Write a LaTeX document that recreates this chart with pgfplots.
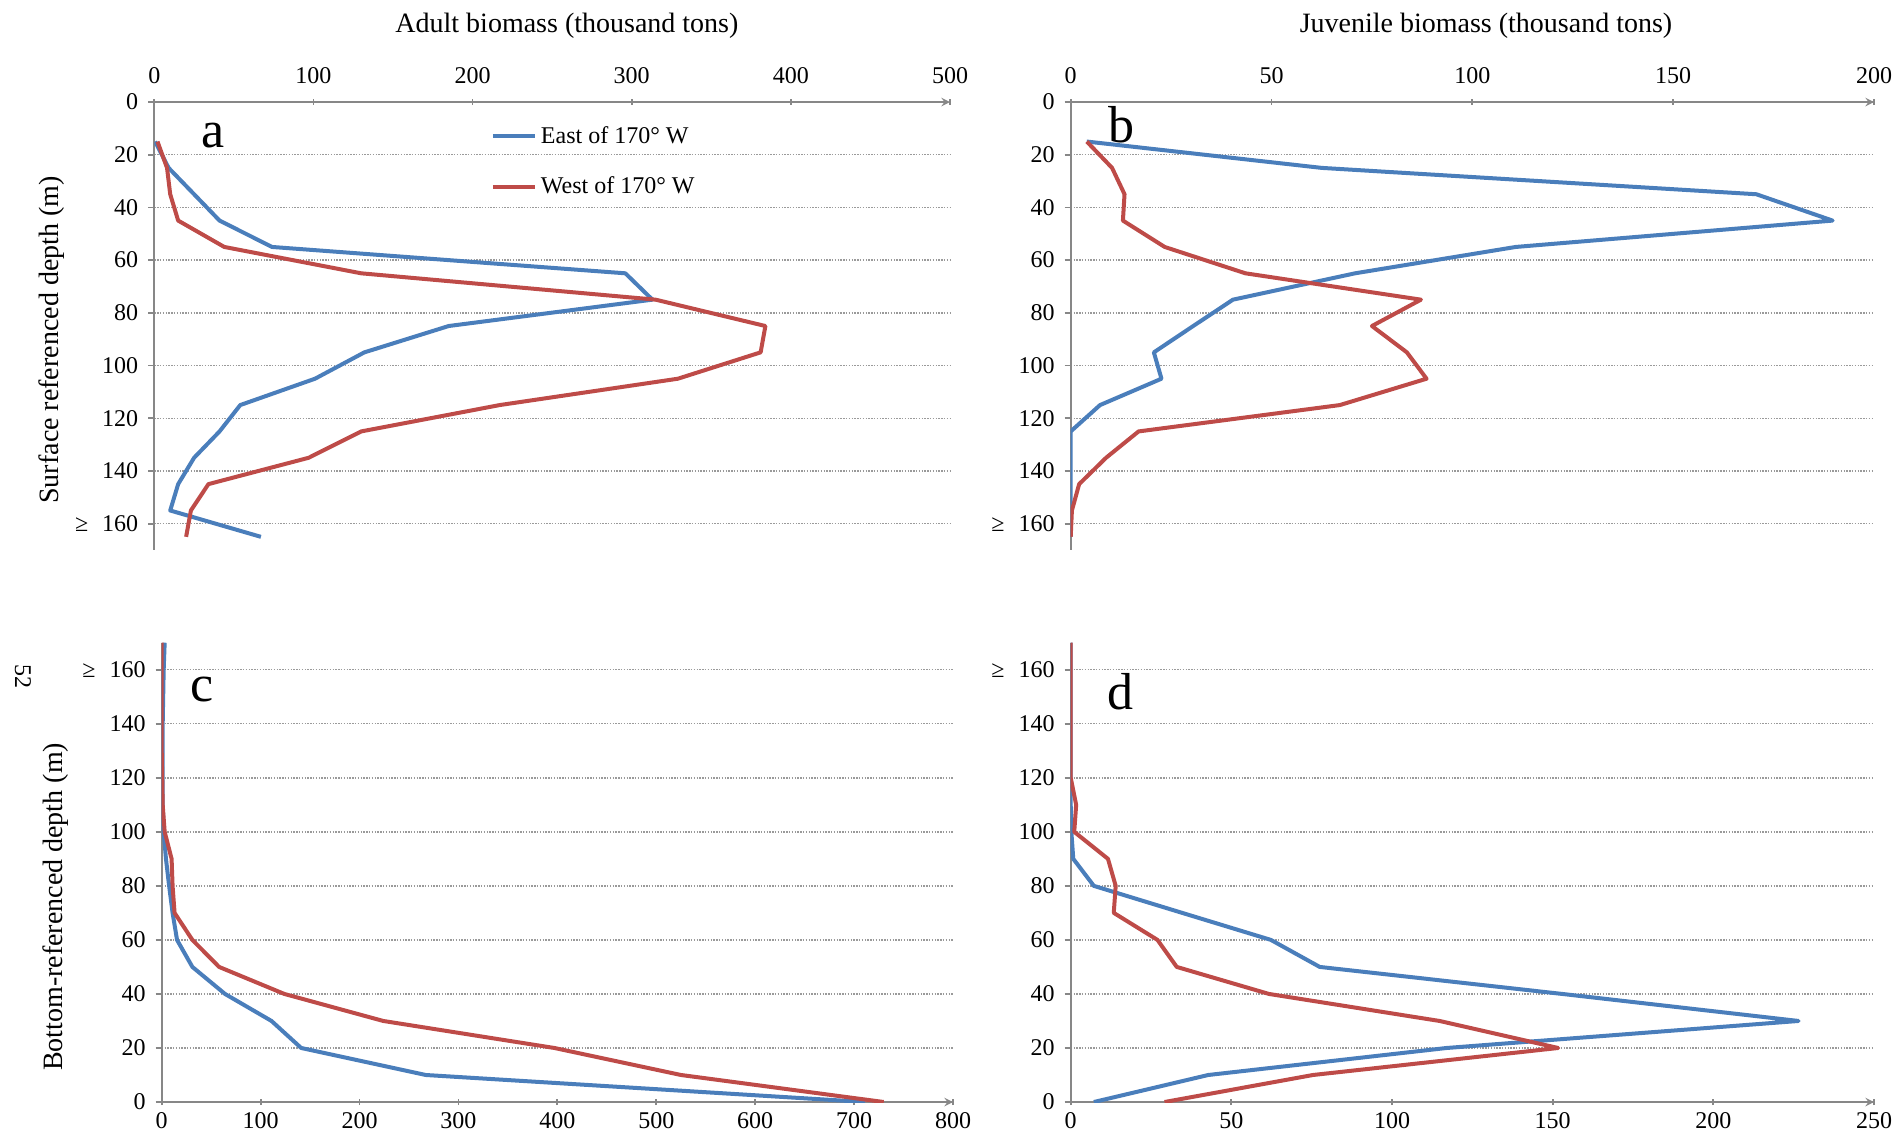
\documentclass[border=0pt]{standalone}
\usepackage{pgfplots}
\pgfplotsset{compat=1.18}
\usepackage{fontspec}
\setmainfont{Liberation Serif}
\definecolor{eastc}{HTML}{4A7EBB}
\definecolor{westc}{HTML}{BE4B48}
\definecolor{axc}{HTML}{878787}
\definecolor{gridc}{HTML}{9A9A9A}
\tikzset{letter/.style={font=\rmfamily\fontsize{26}{30}\selectfont, anchor=base}}
\pgfplotsset{
  panel/.style={
    scale only axis, enlargelimits=false,
    axis y line=left,
    axis line style={-, axc, line width=0.9pt},
    tick style={axc, line width=0.9pt},
    major tick length=3pt, tick align=outside,
    ymajorgrids, major grid style={gridc, line width=0.7pt, dash pattern=on 0.7pt off 0.7pt},
    ymin=0, ymax=170,
    ytick={0,20,40,60,80,100,120,140,160},
    yticklabels={0,20,40,60,80,100,120,140,{≥\hspace{7pt}160}},
    /pgf/number format/assume math mode=true,
    ticklabel style={font=\rmfamily\fontsize{12}{14}\selectfont},
    yticklabel style={xshift=-1.5pt},
  },
  east/.style={eastc, line width=2pt, line join=round},
  west/.style={westc, line width=2pt, line join=round},
}
\begin{document}
\begin{tikzpicture}
\path[use as bounding box] (0,0) rectangle (948pt,-571pt);
\node[rotate=-90, font=\rmfamily\fontsize{12}{14}\selectfont] at (11.5pt,-338.25pt) {52};
% ---------- a
\begin{axis}[panel, at={(276.075pt,-163pt)}, anchor=center,
  width=397.85pt, height=224pt, y dir=reverse,
  axis x line=top,
  xmin=0, xmax=500, xtick={0,100,200,300,400,500},
  xticklabel style={yshift=4pt},
  xlabel={Adult biomass (thousand tons)},
  xlabel style={at={([yshift=38.3pt]axis cs:259.3,0)}, anchor=center, font=\rmfamily\fontsize{14}{17}\selectfont},
  ylabel={Surface referenced depth (m)},
  ylabel style={at={([xshift=-51.15pt]axis cs:0,90.3)}, anchor=center, font=\rmfamily\fontsize{14}{17}\selectfont},
  legend style={draw=none, fill=none, at={(axis cs:211.3,7.54)}, anchor=north west,
    font=\rmfamily\fontsize{12}{14}\selectfont, row sep=11.4pt, inner sep=0pt},
  legend cell align=left,
  legend image code/.code={\draw[#1] (0pt,0pt) -- (21pt,0pt);},
]
\addplot[east] coordinates {(0.5,15) (9,25) (25,35) (41,45) (74,55) (296,65) (313,75) (185,85) (132,95) (101,105) (54,115) (41,125) (25,135) (15,145) (10,155) (67,165)};
\addlegendentry{East of 170° W}
\addplot[west] coordinates {(2,15) (8,25) (10,35) (15,45) (44,55) (130,65) (315,75) (384,85) (381,95) (329,105) (217,115) (130,125) (97,135) (34,145) (23,155) (20,165)};
\addlegendentry{West of 170° W}
\node[letter] at (axis cs:36.6,17.1) {a};
\end{axis}
% ---------- b
\begin{axis}[panel, at={(736.175pt,-163pt)}, anchor=center,
  width=401.65pt, height=224pt, y dir=reverse,
  axis x line=top,
  xmin=0, xmax=200, xtick={0,50,100,150,200},
  xticklabel style={yshift=4pt},
  xlabel={Juvenile biomass (thousand tons)},
  xlabel style={at={([yshift=38.3pt]axis cs:103.4,0)}, anchor=center, font=\rmfamily\fontsize{14}{17}\selectfont},
]
\addplot[east] coordinates {(4,15) (62.5,25) (170.7,35) (189.7,45) (110.8,55) (70.8,65) (40.4,75) (30.5,85) (20.7,95) (22.6,105) (7.3,115) (0,125) (0,135) (0,145) (0,155) (0,165)};
\addplot[west] coordinates {(4,15) (10.3,25) (13.4,35) (13,45) (23.4,55) (43.5,65) (87.2,75) (75,85) (83.7,95) (88.6,105) (67,115) (16.9,125) (8.8,135) (2.1,145) (0.3,155) (0,165)};
\node[letter] at (axis cs:12.6,15.2) {b};
\end{axis}
% ---------- c
\begin{axis}[panel, at={(278.675pt,-436.175pt)}, anchor=center,
  width=395.65pt, height=229.65pt,
  axis x line=bottom,
  xmin=0, xmax=800, xtick={0,100,200,300,400,500,600,700,800},
  ylabel={Bottom-referenced depth (m)},
  ylabel style={at={([xshift=-53pt]axis cs:0,72.2)}, anchor=center, font=\rmfamily\fontsize{14}{17}\selectfont},
]
\addplot[east] coordinates {(711,0) (267,10) (141,20) (111,30) (64,40) (31,50) (15.5,60) (11,70) (7.5,80) (4.3,90) (2,100) (1,110) (1,120) (1,130) (1,140) (1.5,150) (2,160) (3,170)};
\addplot[west] coordinates {(730,0) (525,10) (397,20) (224,30) (124,40) (58,50) (31,60) (13,70) (11,80) (10,90) (3,100) (1,110) (0.5,120) (0,130) (0,140) (0,150) (0,160) (0,170)};
\node[letter] at (axis cs:40.4,148.3) {c};
\end{axis}
% ---------- d
\begin{axis}[panel, at={(736.175pt,-436.175pt)}, anchor=center,
  width=401.65pt, height=229.65pt,
  axis x line=bottom,
  xmin=0, xmax=250, xtick={0,50,100,150,200,250},
]
\addplot[east] coordinates {(7.2,0) (42.8,10) (117,20) (226.5,30) (153,40) (77.5,50) (62.3,60) (34.7,70) (7.2,80) (0.8,90) (0.2,100) (0,110) (0,120) (0,130) (0,140) (0,150) (0,160) (0,170)};
\addplot[west] coordinates {(29.2,0) (75.4,10) (151.7,20) (114.8,30) (61.7,40) (33,50) (27,60) (13.4,70) (14,80) (11.6,90) (1.1,100) (1.7,110) (0,120) (0,130) (0,140) (0,150) (0,160) (0,170)};
\node[letter] at (axis cs:15.5,145.2) {d};
\end{axis}
\end{tikzpicture}
\end{document}
